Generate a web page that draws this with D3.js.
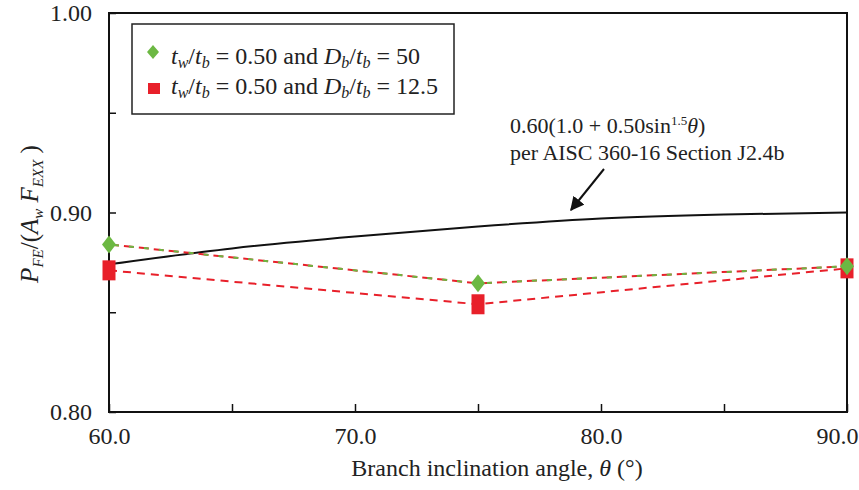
<!DOCTYPE html>
<html>
<head>
<meta charset="utf-8">
<script src="https://cdn.jsdelivr.net/npm/d3@7"></script>
<style>
  body { margin: 0; background: #fff; }
</style>
</head>
<body>
<svg id="chart"></svg>
<script>
// angles (deg) of the two FE series
let angles = [60, 75, 90]
let seriesThin = [0.884, 0.8645, 0.873]   // tw/tb = 0.50, Db/tb = 50
let seriesThick = [0.871, 0.854, 0.872]   // tw/tb = 0.50, Db/tb = 12.5
// AISC curve
let aiscAngles = [60, 65, 70, 75, 80, 85, 90]
let aiscValues = [0.874, 0.882, 0.888, 0.893, 0.897, 0.899, 0.900]
let xTicks = [60, 65, 70, 75, 80, 85, 90]
let yTicks = [0.80, 0.85, 0.90, 0.95, 1.00]

let serif = 'Liberation Serif'
let width = 859
let height = 490
let m = { left: 109, right: 12, top: 13, bottom: 78 }

let svg = d3.select('#chart')
  .attr('width', width)
  .attr('height', height)

let x = d3.scaleLinear().domain([60, 90]).range([m.left, width - m.right])
let y = d3.scaleLinear().domain([0.80, 1.00]).range([height - m.bottom, m.top])

// frame
svg.append('rect')
  .attr('x', x(60)).attr('y', y(1))
  .attr('width', x(90) - x(60)).attr('height', y(0.8) - y(1))
  .attr('fill', 'none').attr('stroke', '#111').attr('stroke-width', 2)

let xAxis = d3.axisBottom(x)
  .tickValues(xTicks)
  .tickSize(-8)
  .tickPadding(15)
  .tickFormat((d) => d % 10 === 0 ? d3.format('.1f')(d) : '')
let gx = svg.append('g')
  .attr('transform', `translate(0,${y(0.8)})`)
  .call(xAxis)
gx.select('.domain').remove()
gx.selectAll('line').attr('stroke', '#111').attr('stroke-width', 1.5)
gx.selectAll('text').attr('font-size', 24).attr('fill', '#222')
// last label pulled inside the window edge
gx.selectAll('text').filter((d) => d === 90)
  .attr('text-anchor', 'end').attr('x', width - 1 - x(90))

let yAxis = d3.axisLeft(y)
  .tickValues(yTicks)
  .tickSize(-7)
  .tickPadding(17)
  .tickFormat((d) => Math.round(d * 100) % 10 === 0 ? d3.format('.2f')(d) : '')
let gy = svg.append('g')
  .attr('transform', `translate(${x(60)},0)`)
  .call(yAxis)
gy.select('.domain').remove()
gy.selectAll('line').attr('stroke', '#111').attr('stroke-width', 1.5)
gy.selectAll('text').attr('font-size', 24).attr('fill', '#222')

// AISC curve
let curve = d3.line()
  .x((d, i) => x(aiscAngles[i]))
  .y((d) => y(d))
  .curve(d3.curveMonotoneX)
svg.append('path')
  .attr('d', curve(aiscValues))
  .attr('fill', 'none').attr('stroke', '#111').attr('stroke-width', 2)

let line = d3.line()
  .x((d, i) => x(angles[i]))
  .y((d) => y(d))

svg.append('path')
  .attr('d', line(seriesThick))
  .attr('fill', 'none').attr('stroke', '#e8202a').attr('stroke-width', 2)
  .attr('stroke-dasharray', '8,6')

// thin series: dashes half red, half green
svg.append('path')
  .attr('d', line(seriesThin))
  .attr('fill', 'none').attr('stroke', '#e8202a').attr('stroke-width', 2)
  .attr('stroke-dasharray', '10,5')
svg.append('path')
  .attr('d', line(seriesThin))
  .attr('fill', 'none').attr('stroke', '#6cb843').attr('stroke-width', 2)
  .attr('stroke-dasharray', '5,10').attr('stroke-dashoffset', -5)

// markers
svg.selectAll('.sq')
  .data(seriesThick)
  .enter()
  .append('rect')
  .attr('class', 'sq')
  .attr('x', (d, i) => x(angles[i]) - 6.5)
  .attr('y', (d) => y(d) - 10)
  .attr('width', 13).attr('height', 20)
  .attr('fill', '#e8202a')

svg.selectAll('.dia')
  .data(seriesThin)
  .enter()
  .append('path')
  .attr('class', 'dia')
  .attr('d', (d, i) => {
    let cx = x(angles[i]), cy = y(d)
    return `M${cx},${cy - 9}L${cx + 7},${cy}L${cx},${cy + 9}L${cx - 7},${cy}Z`
  })
  .attr('fill', '#6cb843')

// legend
svg.append('rect')
  .attr('x', 132).attr('y', 24).attr('width', 322).attr('height', 90)
  .attr('fill', '#fff').attr('stroke', '#222').attr('stroke-width', 1.5)
svg.append('path')
  .attr('d', 'M153,45L159,52L153,59L147,52Z')
  .attr('fill', '#6cb843')
svg.append('rect')
  .attr('x', 148).attr('y', 83).attr('width', 12).attr('height', 11)
  .attr('fill', '#e8202a')

function legendText (ty, last) {
  let t = svg.append('text').attr('x', 171).attr('y', ty).attr('font-size', 24).attr('fill', '#222')
  t.append('tspan').text('t').attr('font-style', 'italic')
  t.append('tspan').text('w').attr('font-style', 'italic').attr('font-size', 16).attr('dy', 4)
  t.append('tspan').text('/').attr('dy', -4)
  t.append('tspan').text('t').attr('font-style', 'italic')
  t.append('tspan').text('b').attr('font-style', 'italic').attr('font-size', 16).attr('dy', 4)
  t.append('tspan').text(' = 0.50 and ').attr('dy', -4)
  t.append('tspan').text('D').attr('font-style', 'italic')
  t.append('tspan').text('b').attr('font-style', 'italic').attr('font-size', 16).attr('dy', 4)
  t.append('tspan').text('/').attr('dy', -4)
  t.append('tspan').text('t').attr('font-style', 'italic')
  t.append('tspan').text('b').attr('font-style', 'italic').attr('font-size', 16).attr('dy', 4)
  t.append('tspan').text(' = ' + last).attr('dy', -4)
}
legendText(64, '50')
legendText(94, '12.5')

// annotation
let a1 = svg.append('text').attr('x', 510).attr('y', 133).attr('font-size', 22).attr('fill', '#222')
a1.append('tspan').text('0.60(1.0 + 0.50sin')
a1.append('tspan').text('1.5').attr('font-size', 13).attr('dy', -8)
a1.append('tspan').text('θ').attr('font-style', 'italic').attr('dy', 8)
a1.append('tspan').text(')')
svg.append('text').attr('x', 510).attr('y', 160).attr('font-size', 22).attr('fill', '#222')
  .text('per AISC 360-16 Section J2.4b')

svg.append('defs').append('marker')
  .attr('id', 'arr').attr('viewBox', '0 0 10 10').attr('refX', 9).attr('refY', 5)
  .attr('markerWidth', 7).attr('markerHeight', 7).attr('orient', 'auto')
  .append('path').attr('d', 'M0,0L10,5L0,10Z').attr('fill', '#111')
svg.append('line')
  .attr('x1', 604).attr('y1', 169).attr('x2', 571).attr('y2', 210)
  .attr('stroke', '#111').attr('stroke-width', 2).attr('marker-end', 'url(#arr)')

// axis titles
let xt = svg.append('text').attr('x', 497).attr('y', 476).attr('text-anchor', 'middle')
  .attr('font-size', 24).attr('fill', '#222')
xt.append('tspan').text('Branch inclination angle, ')
xt.append('tspan').text('θ').attr('font-style', 'italic')
xt.append('tspan').text(' (°)')

let yt = svg.append('text').attr('transform', 'translate(38,214) rotate(-90)')
  .attr('text-anchor', 'middle').attr('font-size', 25).attr('fill', '#222')
yt.append('tspan').text('P').attr('font-style', 'italic')
yt.append('tspan').text('FE').attr('font-style', 'italic').attr('font-size', 15).attr('dy', 5)
yt.append('tspan').text('/(').attr('dy', -5)
yt.append('tspan').text('A').attr('font-style', 'italic')
yt.append('tspan').text('w').attr('font-style', 'italic').attr('font-size', 15).attr('dy', 5)
yt.append('tspan').text(' F').attr('font-style', 'italic').attr('dy', -5)
yt.append('tspan').text('EXX').attr('font-style', 'italic').attr('font-size', 15).attr('dy', 5)
yt.append('tspan').text(' )').attr('dy', -5)

// every text in the serif face, overriding the axis default
svg.selectAll('text, g').attr('font-family', serif)
</script>
</body>
</html>
